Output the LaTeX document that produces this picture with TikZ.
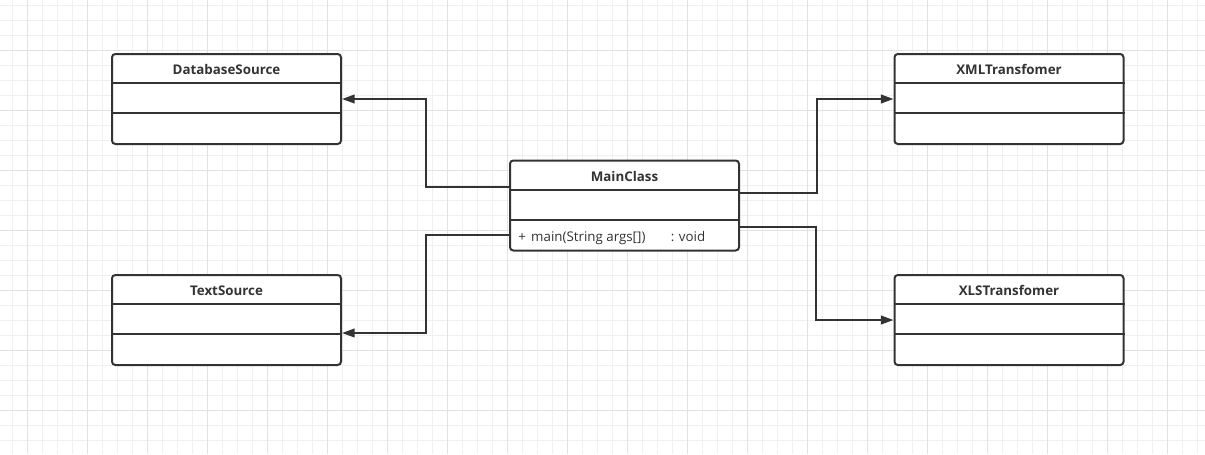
\documentclass[tikz,border=0pt]{standalone}
\usepackage{fontspec}
\setmainfont{Open Sans}
\usetikzlibrary{arrows.meta,calc}
\definecolor{ink}{HTML}{333333}
\definecolor{gridminor}{HTML}{F0F0F0}
\definecolor{gridmajor}{HTML}{E2E2E2}
\tikzset{
  umlbox/.style={draw=ink, line width=1.5pt, rounded corners=2.5pt, fill=white,
    minimum width=229*0.75pt, minimum height=90*0.75pt, inner sep=0pt},
  divider/.style={draw=ink, line width=1.5pt},
  titletext/.style={font=\bfseries\fontsize{10pt}{12pt}\selectfont, text=ink, inner sep=0pt},
  optext/.style={font=\fontsize{10pt}{12pt}\selectfont, text=ink, inner sep=0pt, anchor=west},
  conn/.style={draw=ink, line width=1.5pt, -{Triangle[length=9.5pt,width=6.5pt]}},
}
\newcommand{\umlclass}[4]{% name, cx, cy, title
  \node[umlbox] (#1) at (#2,#3) {};
  \draw[divider] ($(#1.north west)+(0,30)$) -- ($(#1.north east)+(0,30)$);
  \draw[divider] ($(#1.north west)+(0,60)$) -- ($(#1.north east)+(0,60)$);
  \node[titletext] (#1-title) at ($(#1.north)+(0,16.5)$) {#4};
}
\begin{document}
\begin{tikzpicture}[x=0.75pt,y=-0.75pt]
\useasboundingbox (0,0) rectangle (1205,454);
\fill[white] (0,0) rectangle (1205,454);
% grid
\foreach \x in {12,27,...,1205} \draw[gridminor, line width=0.75pt] (\x,0) -- (\x,454);
\foreach \y in {5,20,...,454} \draw[gridminor, line width=0.75pt] (0,\y) -- (1205,\y);
\foreach \x in {27,87,...,1205} \draw[gridmajor, line width=0.75pt] (\x,0) -- (\x,454);
\foreach \y in {50,110,...,454} \draw[gridmajor, line width=0.75pt] (0,\y) -- (1205,\y);
% classes
\umlclass{ds}{226.5}{99}{DatabaseSource}
\umlclass{ts}{226.5}{320}{TextSource}
\umlclass{xml}{1009}{99}{XMLTransfomer}
\umlclass{xls}{1009}{320}{XLSTransfomer}
\umlclass{mc}{624.5}{205.5}{MainClass}
\node[optext] (mc-op) at (518,238) {+\hspace{4pt}main(String args[])\hspace{19pt}: void};
% connector endpoints on node borders
\coordinate (mcA) at (mc.west |- 0,187);
\coordinate (mcB) at (mc.west |- 0,235);
\coordinate (mcC) at (mc.east |- 0,193);
\coordinate (mcD) at (mc.east |- 0,227);
\coordinate (tsIn) at (ts.east |- 0,333);
% connectors
\draw[conn] (mcA) -| (426,99) -- (ds.east);
\draw[conn] (mcB) -| (426,333) -- (tsIn);
\draw[conn] (mcC) -| (817,99) -- (xml.west);
\draw[conn] (mcD) -| (816,320) -- (xls.west);
\end{tikzpicture}
\end{document}
